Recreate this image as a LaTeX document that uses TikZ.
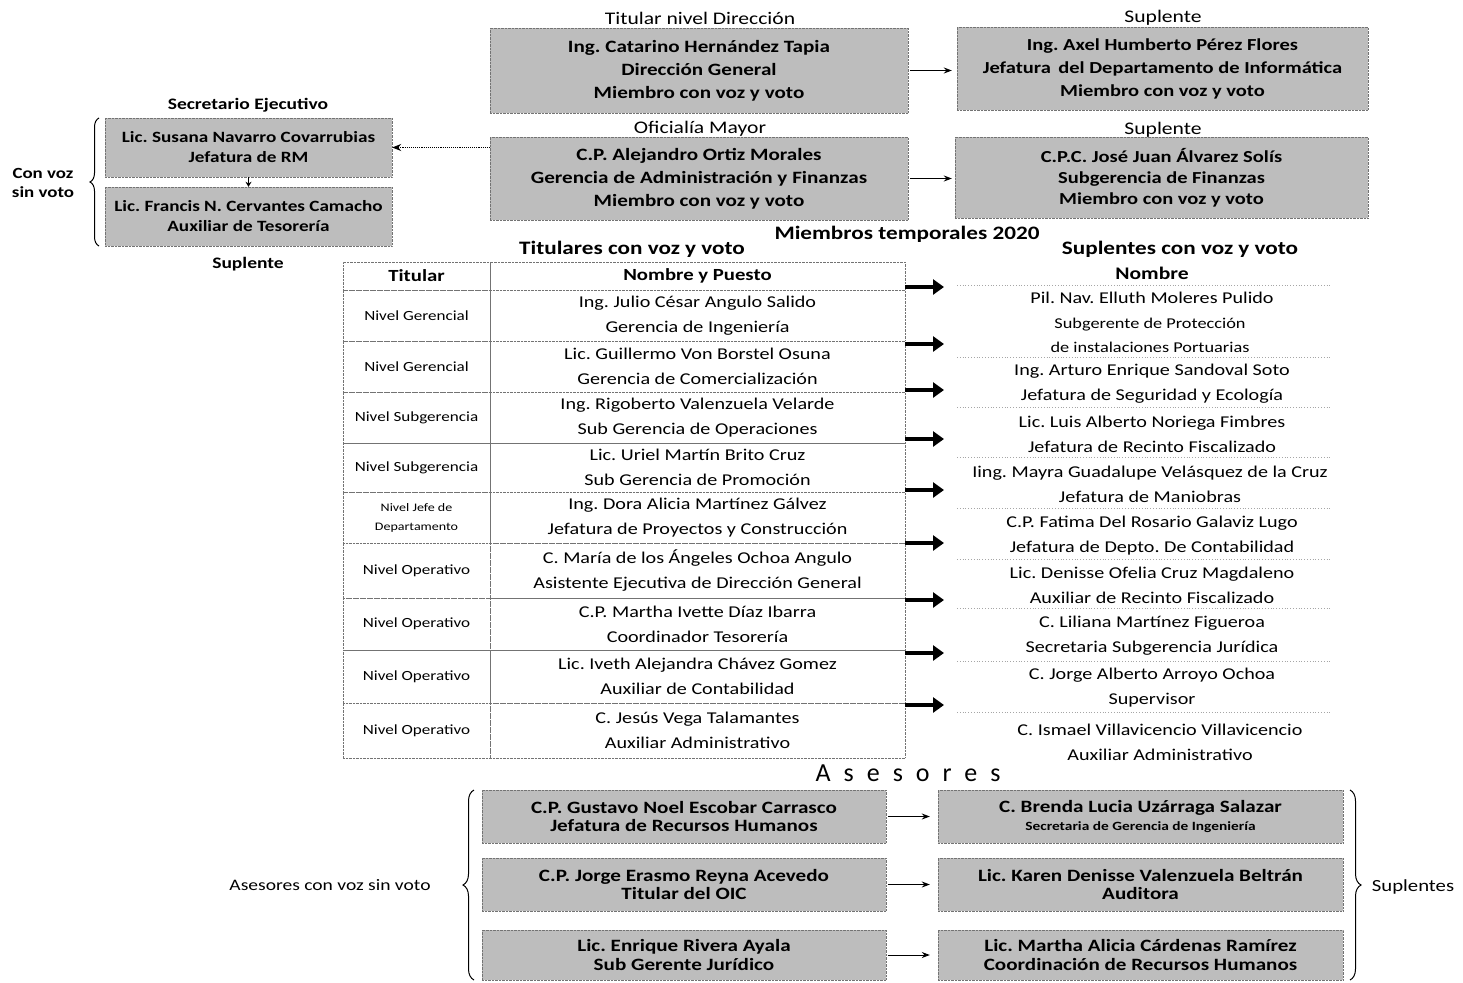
\documentclass[tikz,border=0pt]{standalone}
\usepackage{fontspec}
\setmainfont{Carlito}[FakeStretch=1.22]
\newfontfamily\spacedfont[LetterSpace=50]{Carlito}
\usetikzlibrary{arrows.meta,decorations.pathreplacing}
\definecolor{boxgray}{gray}{0.74}
\tikzset{
  gbox/.style={fill=boxgray, draw=black!55, densely dotted, align=center, inner sep=0pt,
    font=\bfseries\fontsize{17.3}{23}\selectfont},
  sbox/.style={gbox, font=\bfseries\fontsize{15.7}{20}\selectfont},
  abox/.style={gbox, font=\bfseries\fontsize{17.3}{18.5}\selectfont},
  cell/.style={draw=black!55, densely dotted, align=center, inner sep=0pt,
    font=\fontsize{16.5}{25}\selectfont},
  lvl/.style={cell, font=\fontsize{14}{18}\selectfont},
  hdr/.style={cell, font=\bfseries\fontsize{17}{20}\selectfont},
  lbl/.style={align=center, inner sep=0pt, font=\fontsize{17.7}{20}\selectfont},
  blbl/.style={align=center, inner sep=0pt, font=\bfseries\fontsize{16}{20}\selectfont},
  sup/.style={align=center, inner sep=0pt, font=\fontsize{16.5}{25}\selectfont},
  thin/.style={-{Stealth[length=8pt,width=6pt]}, line width=1pt},
  bigarrow/.style={-{Triangle[length=11pt,width=15pt]}, line width=4.5pt},
  dotarrow/.style={densely dotted, line width=0.9pt, -{Stealth[length=9pt,width=7pt]}},
  sep/.style={black!35, dotted, line width=0.8pt},
  bracestyle/.style={decorate, line width=1pt},
}
\begin{document}
\frenchspacing
\begin{tikzpicture}[x=1pt,y=-1pt]
\useasboundingbox (0,0) rectangle (1463,982);

% ---- top: direccion and oficialia mayor
\node[lbl] (ltd) at (700,18) {Titular nivel Dirección};
\node[gbox, minimum width=418, minimum height=85] (d1) at (699,70.5)
  {Ing. Catarino Hernández Tapia\\Dirección General\\Miembro con voz y voto};
\node[lbl] (lom) at (700,129) {Oficialía Mayor};
\node[gbox, minimum width=418, minimum height=83] (d2) at (699,178.5)
  {C.P. Alejandro Ortiz Morales\\Gerencia de Administración y Finanzas\\Miembro con voz y voto};

\node[lbl] (ls1) at (1163,18) {Suplente};
\node[gbox, minimum width=411, minimum height=83, font=\bfseries\fontsize{16.8}{23}\selectfont] (s1) at (1162.5,68.5)
  {Ing. Axel Humberto Pérez Flores\\Jefatura\, del Departamento de Informática\\Miembro con voz y voto};
\node[lbl] (ls2) at (1163,130) {Suplente};
\node[gbox, minimum width=413, minimum height=81, font=\bfseries\fontsize{16.8}{21}\selectfont] (s2) at (1161.5,177.5)
  {C.P.C. José Juan Álvarez Solís\\Subgerencia de Finanzas\\Miembro con voz y voto};

\draw[thin] ([xshift=2pt]d1.east) -- ([xshift=-5pt]s1.west |- d1.east);
\draw[thin] ([xshift=2pt]d2.east) -- ([xshift=-3pt]s2.west |- d2.east);

% ---- left: secretario ejecutivo
\node[blbl] (lse) at (248,105) {Secretario Ejecutivo};
\node[sbox, minimum width=287, minimum height=59] (se1) at (248.5,147.5)
  {Lic. Susana Navarro Covarrubias\\Jefatura de RM};
\node[sbox, minimum width=287, minimum height=59] (se2) at (248.5,216.5)
  {Lic. Francis N. Cervantes Camacho\\Auxiliar de Tesorería};
\node[blbl] (lsup) at (248,264) {Suplente};
\draw[-{Stealth[length=5pt,width=6pt]}, line width=0.8pt] (se1.south) -- (se2.north);
\draw[dotarrow] (d2.west |- se1.east) -- (se1.east);
\draw[bracestyle, decoration={brace, amplitude=9pt}] (99,246) -- (99,118);
\node[blbl, font=\bfseries\fontsize{15.5}{19}\selectfont] (cvsv) at (43,183) {Con voz\\sin voto};

% ---- headings
\node[blbl, font=\bfseries\fontsize{19}{22}\selectfont] (mt) at (907,234) {Miembros temporales 2020};
\node[blbl, font=\bfseries\fontsize{19}{22}\selectfont] (tcv) at (632,249) {Titulares con voz y voto};
\node[blbl, font=\bfseries\fontsize{19}{22}\selectfont] (scv) at (1180,249) {Suplentes con voz y voto};
\node[blbl, font=\bfseries\fontsize{17.7}{20}\selectfont] (nom) at (1152,273) {Nombre};

% ---- table
\node[hdr, minimum width=147, minimum height=28] (h1) at (416.5,276) {Titular};
\node[hdr, minimum width=415, minimum height=28] (h2) at (697.5,276) {Nombre y Puesto};

\node[lvl, minimum width=147, minimum height=51] (r1a) at (416.5,315.5) {Nivel Gerencial};
\node[cell, minimum width=415, minimum height=51] (r1b) at (697.5,315.5) {Ing. Julio César Angulo Salido\\Gerencia de Ingeniería};
\node[lvl, minimum width=147, minimum height=51] (r2a) at (416.5,366.5) {Nivel Gerencial};
\node[cell, minimum width=415, minimum height=51] (r2b) at (697.5,366.5) {Lic. Guillermo Von Borstel Osuna\\Gerencia de Comercialización};
\node[lvl, minimum width=147, minimum height=51] (r3a) at (416.5,417.5) {Nivel Subgerencia};
\node[cell, minimum width=415, minimum height=51] (r3b) at (697.5,417.5) {Ing. Rigoberto Valenzuela Velarde\\Sub Gerencia de Operaciones};
\node[lvl, minimum width=147, minimum height=49] (r4a) at (416.5,467.5) {Nivel Subgerencia};
\node[cell, minimum width=415, minimum height=49] (r4b) at (697.5,467.5) {Lic. Uriel Martín Brito Cruz\\Sub Gerencia de Promoción};
\node[lvl, minimum width=147, minimum height=51, font=\fontsize{11.5}{19}\selectfont] (r5a) at (416.5,517.5) {Nivel Jefe de\\Departamento};
\node[cell, minimum width=415, minimum height=51] (r5b) at (697.5,517.5) {Ing. Dora Alicia Martínez Gálvez\\Jefatura de Proyectos y Construcción};
\node[lvl, minimum width=147, minimum height=55] (r6a) at (416.5,570.5) {Nivel Operativo};
\node[cell, minimum width=415, minimum height=55] (r6b) at (697.5,570.5) {C. María de los Ángeles Ochoa Angulo\\Asistente Ejecutiva de Dirección General};
\node[lvl, minimum width=147, minimum height=52] (r7a) at (416.5,624) {Nivel Operativo};
\node[cell, minimum width=415, minimum height=52] (r7b) at (697.5,624) {C.P. Martha Ivette Díaz Ibarra\\Coordinador Tesorería};
\node[lvl, minimum width=147, minimum height=53] (r8a) at (416.5,676.5) {Nivel Operativo};
\node[cell, minimum width=415, minimum height=53] (r8b) at (697.5,676.5) {Lic. Iveth Alejandra Chávez Gomez\\Auxiliar de Contabilidad};
\node[lvl, minimum width=147, minimum height=55] (r9a) at (416.5,730.5) {Nivel Operativo};
\node[cell, minimum width=415, minimum height=55] (r9b) at (697.5,730.5) {C. Jesús Vega Talamantes\\Auxiliar Administrativo};

% ---- suplentes column
\node[sup] (e1a) at (1152,298) {Pil. Nav. Elluth Moleres Pulido};
\node[sup, font=\fontsize{15}{24}\selectfont] (e1) at (1150,335) {Subgerente de Protección\\de instalaciones Portuarias};
\node[sup] (e2) at (1152,384) {Ing. Arturo Enrique Sandoval Soto\\Jefatura de Seguridad y Ecología};
\node[sup] (e3) at (1152,434.5) {Lic. Luis Alberto Noriega Fimbres\\Jefatura de Recinto Fiscalizado};
\node[sup] (e4) at (1150,484) {Iing. Mayra Guadalupe Velásquez de la Cruz\\Jefatura de Maniobras};
\node[sup] (e5) at (1152,535.5) {C.P. Fatima Del Rosario Galaviz Lugo\\Jefatura de Depto. De Contabilidad};
\node[sup] (e6) at (1152,585) {Lic. Denisse Ofelia Cruz Magdaleno\\Auxiliar de Recinto Fiscalizado};
\node[sup] (e7) at (1152,635.5) {C. Liliana Martínez Figueroa\\Secretaria Subgerencia Jurídica};
\node[sup] (e8) at (1152,687.5) {C. Jorge Alberto Arroyo Ochoa\\Supervisor};
\node[sup] (e9) at (1160,742.5) {C. Ismael Villavicencio Villavicencio\\Auxiliar Administrativo};

\foreach \yy in {285,357,407,457,508,559,608,661,712}
  \draw[sep] (957,\yy) -- (1330,\yy);

% ---- thick arrows
\foreach \i/\yy in {1/287,2/344,3/390,4/439,5/490,6/543,7/600,8/653,9/705}{
  \coordinate (ta\i) at (905,\yy);
  \coordinate (tb\i) at (944,\yy);
  \draw[bigarrow] (ta\i) -- (tb\i);
}

% ---- asesores
\node[inner sep=0pt, font=\spacedfont\fontsize{26}{28}\selectfont] (ases) at (908,773) {Asesores};

\node[abox, minimum width=404, minimum height=53] (a1) at (684,816.5)
  {C.P. Gustavo Noel Escobar Carrasco\\Jefatura de Recursos Humanos};
\node[abox, minimum width=404, minimum height=53] (a2) at (684,884.5)
  {C.P. Jorge Erasmo Reyna Acevedo\\Titular del OIC};
\node[abox, minimum width=404, minimum height=50] (a3) at (684,955)
  {Lic. Enrique Rivera Ayala\\Sub Gerente Jurídico};

\node[abox, minimum width=405, minimum height=53] (b1) at (1140.5,816.5)
  {C. Brenda Lucia Uzárraga Salazar\\{\fontsize{12.6}{14}\selectfont Secretaria de Gerencia de Ingeniería}};
\node[abox, minimum width=405, minimum height=53] (b2) at (1140.5,884.5)
  {Lic. Karen Denisse Valenzuela Beltrán\\Auditora};
\node[abox, minimum width=405, minimum height=50] (b3) at (1140.5,955)
  {Lic. Martha Alicia Cárdenas Ramírez\\Coordinación de Recursos Humanos};

\draw[thin] ([xshift=2pt]a1.east) -- ([xshift=-8pt]b1.west);
\draw[thin] ([xshift=2pt]a2.east) -- ([xshift=-8pt]b2.west);
\draw[thin] ([xshift=2pt]a3.east) -- ([xshift=-8pt]b3.west);

\draw[bracestyle, decoration={brace, amplitude=11pt}] (474,980) -- (474,790);
\draw[bracestyle, decoration={brace, amplitude=11pt}] (1350,790) -- (1350,980);
\node[lbl, font=\fontsize{16}{20}\selectfont] (acv) at (330,885) {Asesores con voz sin voto};
\node[lbl, font=\fontsize{17}{20}\selectfont] (supl) at (1413,887) {Suplentes};
\end{tikzpicture}
\end{document}
